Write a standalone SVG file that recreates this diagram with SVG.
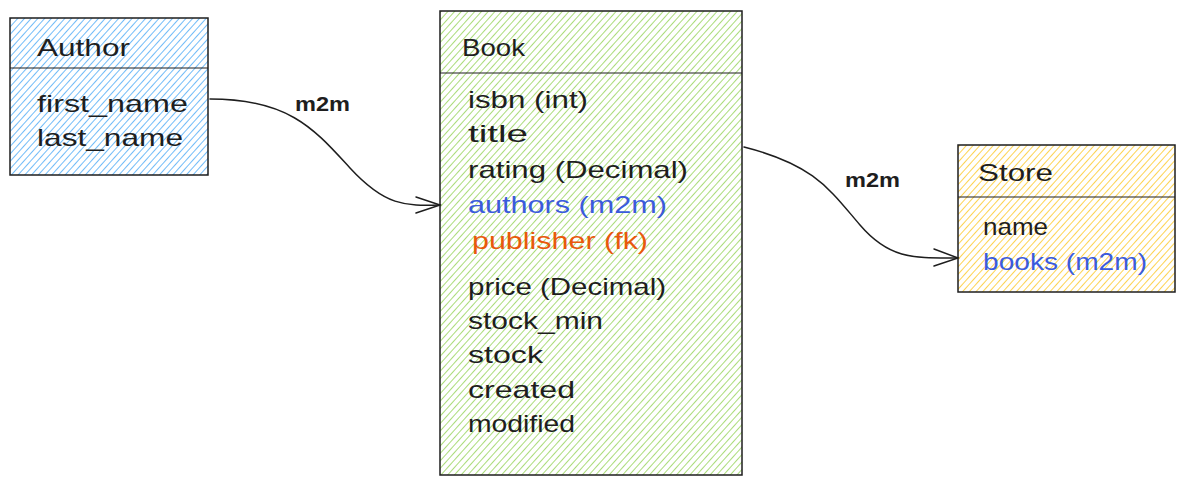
<svg xmlns="http://www.w3.org/2000/svg" width="1185" height="485" viewBox="0 0 1185 485">
<defs>
<pattern id="hb" width="5" height="5" patternUnits="userSpaceOnUse" patternTransform="rotate(42)"><line x1="0" y1="0" x2="0" y2="5" stroke="#4dabf7" stroke-width="1.6"/></pattern>
<pattern id="hg" width="5" height="5" patternUnits="userSpaceOnUse" patternTransform="rotate(42)"><line x1="0" y1="0" x2="0" y2="5" stroke="#8fd14f" stroke-width="1.5"/></pattern>
<pattern id="ho" width="5" height="5" patternUnits="userSpaceOnUse" patternTransform="rotate(42)"><line x1="0" y1="0" x2="0" y2="5" stroke="#fcc419" stroke-width="1.5"/></pattern>
</defs>
<style>
.box{stroke:#1e1e1e;stroke-width:1.5}
.div{stroke:#1e1e1e;stroke-width:1.2;fill:none}
text{font-family:"Liberation Sans",Arial,sans-serif;font-size:24px;fill:#1e1e1e}
.blue{fill:#3b5bdb}
.orange{fill:#e8590c}
.lbl{font-size:20px;font-weight:bold}
.conn{fill:none;stroke:#1e1e1e;stroke-width:1.5;stroke-linecap:round}
</style>
<rect width="1185" height="485" fill="#ffffff"/>
<g id="connectors">
<path class="conn" d="M210 99 C290 99 315 130 350 168 S405 206 440 205"/>
<path class="conn" d="M416 197 L440 205 L416 213"/>
<path class="conn" d="M744 147 C815 165 830 190 860 225 S915 258 958 258"/>
<path class="conn" d="M934 249 L958 258 L934 266"/>
<text class="lbl" x="295" y="111" textLength="55" lengthAdjust="spacingAndGlyphs">m2m</text>
<text class="lbl" x="845" y="187" textLength="55" lengthAdjust="spacingAndGlyphs">m2m</text>
</g>
<g id="author">
<rect class="box" x="10" y="18" width="198" height="157" fill="url(#hb)"/>
<line class="div" x1="10" y1="68" x2="208" y2="68"/>
<text x="37" y="56" textLength="93" lengthAdjust="spacingAndGlyphs">Author</text>
<text x="37" y="112" textLength="151" lengthAdjust="spacingAndGlyphs">first_name</text>
<text x="37" y="146" textLength="146" lengthAdjust="spacingAndGlyphs">last_name</text>
</g>
<g id="book">
<rect class="box" x="440" y="11" width="302" height="464" fill="url(#hg)"/>
<line class="div" x1="440" y1="73" x2="742" y2="73"/>
<text x="462" y="56" textLength="63" lengthAdjust="spacingAndGlyphs">Book</text>
<text x="468" y="108" textLength="120" lengthAdjust="spacingAndGlyphs">isbn (int)</text>
<text x="468" y="142" textLength="60" lengthAdjust="spacingAndGlyphs">title</text>
<text x="468" y="178" textLength="220" lengthAdjust="spacingAndGlyphs">rating (Decimal)</text>
<text class="blue" x="468" y="213" textLength="199" lengthAdjust="spacingAndGlyphs">authors (m2m)</text>
<text class="orange" x="472" y="249" textLength="176" lengthAdjust="spacingAndGlyphs">publisher (fk)</text>
<text x="468" y="295" textLength="198" lengthAdjust="spacingAndGlyphs">price (Decimal)</text>
<text x="468" y="329" textLength="135" lengthAdjust="spacingAndGlyphs">stock_min</text>
<text x="468" y="363" textLength="75" lengthAdjust="spacingAndGlyphs">stock</text>
<text x="468" y="398" textLength="107" lengthAdjust="spacingAndGlyphs">created</text>
<text x="468" y="432" textLength="107" lengthAdjust="spacingAndGlyphs">modified</text>
</g>
<g id="store">
<rect class="box" x="958" y="145" width="217" height="147" fill="url(#ho)"/>
<line class="div" x1="958" y1="197" x2="1175" y2="197"/>
<text x="978" y="181" textLength="75" lengthAdjust="spacingAndGlyphs">Store</text>
<text x="983" y="235" textLength="65" lengthAdjust="spacingAndGlyphs">name</text>
<text class="blue" x="983" y="270" textLength="164" lengthAdjust="spacingAndGlyphs">books (m2m)</text>
</g>
</svg>
